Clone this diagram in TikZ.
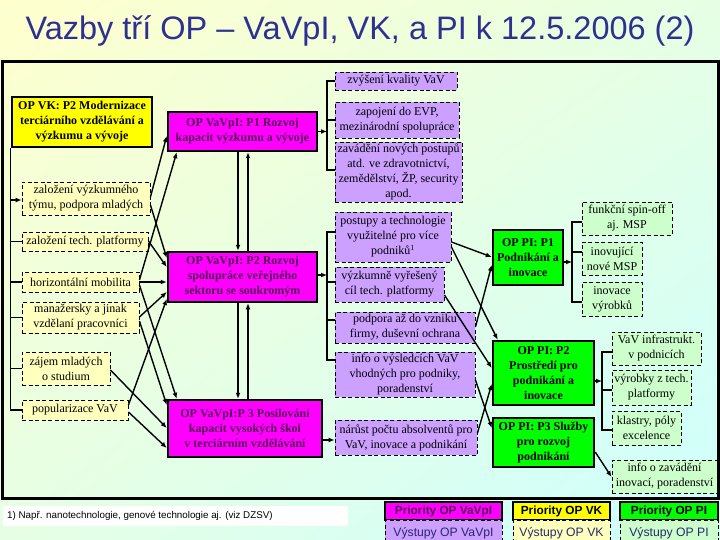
\documentclass[tikz,border=0pt]{standalone}
\usepackage{fontspec}
\setmainfont{Liberation Serif}
\setsansfont{Liberation Sans}
\usetikzlibrary{arrows.meta,calc,shadings}
\definecolor{bgA}{RGB}{255,255,205}
\definecolor{bgB}{RGB}{205,255,255}
\definecolor{bgC}{RGB}{230,255,228}
\definecolor{titlec}{RGB}{48,48,145}
\definecolor{vkY}{RGB}{255,255,0}
\definecolor{vkO}{RGB}{255,255,190}
\definecolor{vavM}{RGB}{255,0,255}
\definecolor{vavT}{RGB}{85,10,85}
\definecolor{vavO}{RGB}{204,160,255}
\definecolor{piG}{RGB}{0,255,0}
\definecolor{piO}{RGB}{204,255,204}
\definecolor{legT}{RGB}{40,40,110}
\newcommand\bx[7]{\node[#2, minimum width={(#5)-(#3)}, minimum height={(#6)-(#4)}] (#1) at ({((#3)+(#5))/2},{((#4)+(#6))/2}) {#7};}
\tikzset{
  prio/.style={draw, line width=2.5pt, align=center, inner sep=1pt,
    font=\bfseries\fontsize{12}{15}\selectfont},
  outbox/.style={draw, line width=0.9pt, dash pattern=on 4pt off 2.5pt, align=center, inner sep=1pt,
    font=\fontsize{12}{15}\selectfont},
  vk/.style={prio, fill=vkY},
  vko/.style={outbox, fill=vkO},
  vav/.style={prio, fill=vavM, text=vavT},
  vavo/.style={outbox, fill=vavO},
  pi/.style={prio, fill=piG},
  pio/.style={outbox, fill=piO},
  ln/.style={line width=1.2pt},
  conn/.style={line width=1.4pt, -{Latex[length=6pt,width=5pt]}},
  legp/.style={draw, line width=2pt, inner sep=1pt, font=\sffamily\bfseries\fontsize{11.8}{13}\selectfont},
  lego/.style={draw, line width=0.9pt, dash pattern=on 4pt off 2.5pt, inner sep=1pt, text=legT,
    font=\sffamily\fontsize{12.2}{13}\selectfont}
}
\begin{document}
\begin{tikzpicture}[x=1pt,y=-1pt]
\useasboundingbox (0,0) rectangle (720,540);
\shade[upper left=bgA, lower right=bgB, upper right=bgC, lower left=bgC] (0,0) rectangle (720,540);
\node[font=\sffamily\fontsize{32.5}{34}\selectfont, text=titlec] (title) at (360,31) {Vazby tří OP – VaVpI, VK, a PI k 12.5.2006 (2)};
\draw[line width=3pt] (2,62) rectangle (718,498);

% VK column
\bx{VK}{vk}{12}{97}{152}{147}{OP VK: P2 Modernizace\\terciárního vzdělávání a\\výzkumu a vývoje}
\bx{A1}{vko}{22}{182}{150}{215}{založení výzkumného\\týmu, podpora mladých}
\bx{A2}{vko}{22}{232}{148}{251}{založení tech. platformy}
\bx{A3}{vko}{22}{272}{139}{292}{horizontální mobilita}
\bx{A4}{vko}{22}{302}{139}{333}{manažersky a jinak\\vzdělaní pracovníci}
\bx{A5}{vko}{22}{352}{110}{385}{zájem mladých\\o studium}
\bx{A6}{vko}{22}{400}{128}{420}{popularizace VaV}

% VaVpI column
\bx{P1}{vav}{168}{112}{317}{151}{OP VaVpI: P1 Rozvoj\\kapacit výzkumu a vývoje}
\bx{P2}{vav}{168}{252}{317}{302}{OP VaVpI: P2 Rozvoj\\spolupráce veřejného\\sektoru se soukromým}
\bx{P3}{vav}{168}{400}{322}{457}{OP VaVpI:P 3 Posilování\\kapacit vysokých škol\\v terciárním vzdělávání}

\bx{B1}{vavo}{335}{72}{457}{90}{zvýšení kvality VaV}
\bx{B2}{vavo}{335}{102}{459}{138}{zapojení do EVP,\\mezinárodní spolupráce}
\bx{B3}{vavo}{335}{142}{462}{202}{zavádění nových postupů\\atd. ve zdravotnictví,\\zemědělství, ŽP, security\\apod.}
\bx{B4}{vavo}{335}{212}{451}{262}{postupy a technologie\\využitelné pro více\\podniků\textsuperscript{1}}
\bx{B5}{vavo}{335}{267}{444}{302}{výzkumně vyřešený\\cíl tech. platformy}
\bx{B6}{vavo}{335}{312}{475}{343}{podpora až do vzniku\\firmy, duševní ochrana}
\bx{B7}{vavo}{335}{352}{475}{397}{info o výsledcích VaV\\vhodných pro podniky,\\poradenství}
\bx{B8}{vavo}{335}{420}{477}{455}{nárůst počtu absolventů pro\\VaV, inovace a podnikání}

% PI column
\bx{C1}{pi}{493}{230}{563}{285}{OP PI: P1\\Podnikání a\\inovace}
\bx{C2}{pi}{493}{341}{594}{405}{OP PI: P2\\Prostředí pro\\podnikání a\\inovace}
\bx{C3}{pi}{493}{418}{594}{467}{OP PI: P3 Služby\\pro rozvoj\\podnikání}

\bx{D1}{pio}{582}{202}{672}{235}{funkční spin-off\\aj. MSP}
\bx{D2}{pio}{582}{242}{642}{275}{inovující\\nové MSP}
\bx{D3}{pio}{582}{282}{642}{316}{inovace\\výrobků}
\bx{E1}{pio}{612}{332}{701}{365}{VaV infrastrukt.\\v podnicích}
\bx{E2}{pio}{612}{370}{691}{405}{výrobky z tech.\\platformy}
\bx{E3}{pio}{612}{411}{681}{445}{klastry, póly\\excelence}
\bx{E4}{pio}{612}{460}{717}{493}{info o zavádění\\inovací, poradenství}

% bracket coordinates
\coordinate (k1) at (327,0);
\coordinate (k2) at (327,0);
\coordinate (k3) at (572,0);
\coordinate (k4) at (602,0);

% VK bracket
\draw[ln] (VK.south west) -- (VK.south west |- 0,410) -- (A6.west |- 0,410);
\foreach \b in {A2,A3,A4,A5} \draw[ln] (\b.west -| VK.south west) -- (\b.west);
\draw[conn] (VK.south west |- 0,200) -- (A1.west |- 0,200);

% VaVpI P1 bracket
\draw[ln] (B1.west) -- (B1.west -| k1) -- (k1 |- 0,170) -- (B3.west |- 0,170);
\draw[ln] (B2.west -| k1) -- (B2.west);
\draw[conn] (P1.east) -- (P1.east -| k1);
% P2 bracket
\draw[ln] (B4.west |- 0,232) -- (k2 |- 0,232) -- (k2 |- 0,360) -- (B7.west |- 0,360);
\draw[ln] (k2 |- 0,282) -- (B5.west |- 0,282);
\draw[ln] (k2 |- 0,320) -- (B6.west |- 0,320);
\draw[conn] (P2.east |- 0,275) -- (k2 |- 0,275);
% P3
\draw[conn] (P3.east |- 0,440) -- (B8.west |- 0,440);

% vertical links between VaVpI priorities
\draw[conn] (P1.south -| 238,0) -- (P2.north -| 238,0);
\draw[conn] (P2.north -| 248,0) -- (P1.south -| 248,0);
\draw[conn] (P2.south -| 238,0) -- (P3.north -| 238,0);
\draw[conn] (P3.north -| 248,0) -- (P2.south -| 248,0);

% PI brackets
\draw[ln] (D1.west |- 0,222) -- (k3 |- 0,222) -- (k3 |- 0,302) -- (D3.west |- 0,302);
\draw[ln] (k3 |- 0,252) -- (D2.west |- 0,252);
\draw[conn] (C1.east |- 0,262) -- (k3 |- 0,262);
\draw[ln] (E1.west |- 0,352) -- (k4 |- 0,352) -- (k4 |- 0,430) -- (E3.west |- 0,430);
\draw[ln] (k4 |- 0,390) -- (E2.west |- 0,390);
\draw[conn] (C2.east |- 0,381) -- (k4 |- 0,381);
\draw[conn] (C3.east |- 0,452) -- (E4.west |- 0,477);

% VK outputs -> VaVpI
\draw[conn] (A1.east |- 0,197) -- (P1.west |- 0,136);
\draw[conn] (A1.east |- 0,205) -- (P2.west |- 0,258);
\draw[conn] (A3.east |- 0,280) -- ($(P1.south west)+(10,0)$);
\draw[conn] (A2.east |- 0,241) -- (P2.west |- 0,267);
\draw[conn] (A3.east |- 0,282) -- (P2.west |- 0,282);
\draw[conn] (A4.east |- 0,317) -- (P2.west |- 0,292);
\draw[conn] (A6.east |- 0,405) -- (P2.west |- 0,299);
\draw[conn] (A3.east |- 0,285) -- ($(P3.north west)+(10,0)$);
\draw[conn] (A4.east |- 0,321) -- (P3.west |- 0,405);
\draw[conn] (A5.east |- 0,370) -- (P3.west |- 0,428);
\draw[conn] (A6.east |- 0,412) -- (P3.west |- 0,448);

% VaVpI outputs -> PI
\draw[conn] (B4.east |- 0,242) -- (C1.west |- 0,257);
\draw[conn] (B6.east |- 0,327) -- (C1.west |- 0,265);
\draw[conn] (B4.east |- 0,247) -- ($(C2.north west)+(6,0)$);
\draw[conn] (B5.east |- 0,295) -- (C2.west |- 0,368);
\draw[conn] (B7.east |- 0,380) -- (C3.west |- 0,428);
\draw[conn] (B8.east |- 0,433) -- (C2.west |- 0,384);

% footnote
\fill[white] (3,506) rectangle (348,526);
\node[anchor=west, inner sep=0pt, font=\sffamily\fontsize{9.8}{11}\selectfont] (fn) at (7,516) {1) Např. nanotechnologie, genové technologie aj. (viz DZSV)};

% legend
\bx{L1}{legp, fill=vavM, text=vavT}{385}{502}{502}{520}{Priority OP VaVpI}
\bx{L2}{lego, fill=vavO}{385}{520}{502}{548}{\raisebox{4pt}{Výstupy OP VaVpI}}
\bx{L3}{legp, fill=vkY}{513}{502}{610}{520}{Priority OP VK}
\bx{L4}{lego, fill=vkO}{513}{520}{610}{548}{\raisebox{4pt}{Výstupy OP VK}}
\bx{L5}{legp, fill=piG}{620}{502}{718}{520}{Priority OP PI}
\bx{L6}{lego, fill=piO}{620}{520}{718}{548}{\raisebox{4pt}{Výstupy OP PI}}
\end{tikzpicture}
\end{document}
